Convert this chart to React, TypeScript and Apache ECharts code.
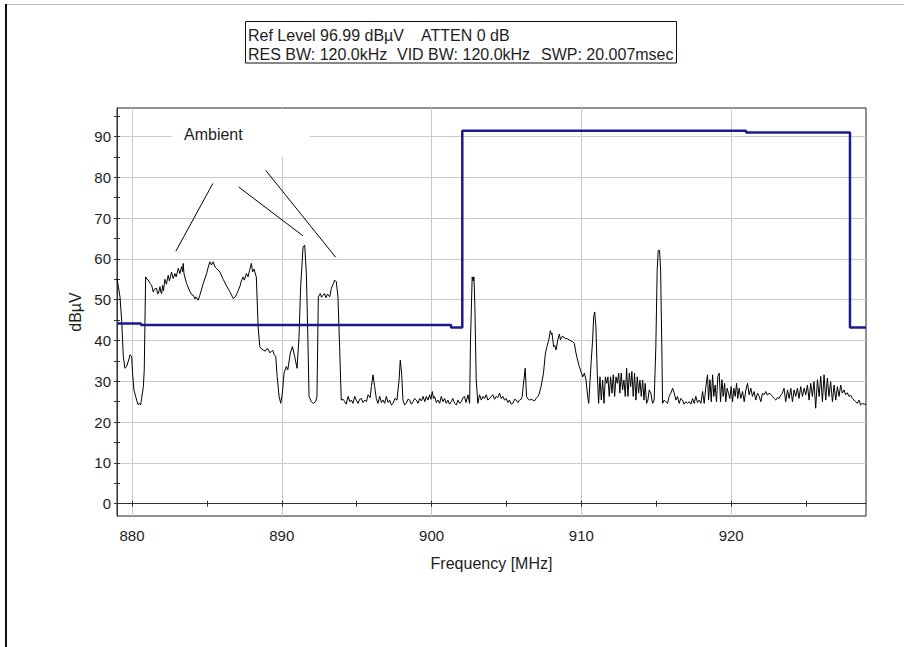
import React, { useEffect, useRef } from "react";
import * as echarts from "echarts";

const FONT = '"Liberation Sans", Arial, Helvetica, sans-serif';

// Axis ranges (Ref level 96.99 dBµV, 10 dB/div, 10 divisions)
const X_MIN = 879;
const X_MAX = 929;
const Y_MIN = -3.01;
const Y_MAX = 96.99;
const X_LABELS = [880, 890, 900, 910, 920];
const X_TICKS = [880, 885, 890, 895, 900, 905, 910, 915, 920, 925];
const Y_LABELS = [0, 10, 20, 30, 40, 50, 60, 70, 80, 90];
const Y_TICKS = [0, 5, 10, 15, 20, 25, 30, 35, 40, 45, 50, 55, 60, 65, 70, 75, 80, 85, 90, 95];

// Measured trace [MHz, dBµV]
const traceAmbient: [number, number][] = [
  [879.0, 55.2], [879.1, 53.0], [879.2, 50.7], [879.31, 45.0], [879.42, 36.1], [879.53, 33.2], [879.64, 33.6],
  [879.8, 35.5], [879.87, 36.5], [879.98, 36.0], [880.04, 32.0], [880.13, 27.9], [880.31, 25.4], [880.4, 24.3],
  [880.49, 24.6], [880.58, 24.2], [880.64, 25.8], [880.76, 28.7], [880.82, 32.8], [880.91, 55.6], [881.0, 55.0],
  [881.09, 54.8], [881.2, 54.0], [881.31, 53.6], [881.42, 51.9], [881.5, 52.6], [881.64, 52.8], [881.7, 51.5],
  [881.76, 51.5], [881.87, 53.2], [881.93, 51.8], [881.98, 51.5], [882.05, 53.5], [882.1, 52.2], [882.2, 55.0],
  [882.3, 53.8], [882.42, 56.0], [882.5, 54.6], [882.64, 56.8], [882.75, 55.2], [882.87, 56.4], [882.95, 55.6],
  [883.09, 57.7], [883.2, 56.4], [883.31, 58.1], [883.38, 56.9], [883.42, 58.9], [883.47, 56.4], [883.64, 54.0],
  [883.87, 52.0], [884.0, 51.2], [884.09, 51.1], [884.2, 50.2], [884.27, 50.7], [884.42, 49.9], [884.53, 51.1],
  [884.76, 54.0], [884.98, 56.4], [885.09, 58.0], [885.2, 59.3], [885.31, 58.5], [885.42, 59.3], [885.55, 58.0],
  [885.64, 57.7], [885.87, 56.8], [886.09, 55.0], [886.31, 53.4], [886.53, 52.0], [886.76, 50.3], [886.9, 50.7],
  [887.0, 51.5], [887.1, 52.3], [887.2, 53.2], [887.3, 54.6], [887.42, 55.6], [887.5, 54.8], [887.64, 56.4],
  [887.75, 55.6], [887.85, 57.2], [887.97, 58.9], [888.05, 56.8], [888.15, 57.5], [888.2, 56.8], [888.3, 55.6],
  [888.42, 43.4], [888.53, 38.5], [888.65, 37.9], [888.75, 37.7], [888.9, 37.4], [889.0, 38.0], [889.09, 37.9],
  [889.2, 37.0], [889.3, 37.3], [889.4, 37.6], [889.5, 36.5], [889.6, 36.1], [889.69, 31.2], [889.82, 26.3],
  [889.93, 24.6], [890.04, 27.1], [890.15, 32.0], [890.3, 33.6], [890.4, 32.8], [890.57, 36.9], [890.71, 38.5],
  [890.86, 36.1], [891.02, 33.2], [891.15, 40.9], [891.26, 53.2], [891.42, 62.9], [891.53, 63.4], [891.64, 56.4],
  [891.73, 42.6], [891.82, 26.3], [891.97, 25.0], [892.1, 24.6], [892.26, 25.0], [892.35, 26.3], [892.44, 50.7],
  [892.57, 51.5], [892.65, 50.6], [892.75, 51.1], [892.85, 51.5], [892.95, 50.5], [893.05, 51.4], [893.2, 50.7],
  [893.31, 52.8], [893.45, 54.0], [893.53, 54.8], [893.64, 54.4], [893.75, 50.7], [893.86, 38.5], [893.97, 25.4],
  [894.1, 25.6],
];

const traceLowBand: [number, number][] = [
  [894.2, 25.0], [894.3, 24.4], [894.43, 26.3], [894.55, 25.0], [894.65, 25.4], [894.75, 24.6], [894.87, 26.3],
  [895.0, 25.2], [895.09, 24.6], [895.2, 25.6], [895.31, 25.8], [895.42, 24.8], [895.54, 25.4], [895.65, 25.0],
  [895.76, 26.7], [895.9, 26.0], [895.98, 28.7], [896.09, 31.6], [896.2, 28.7], [896.31, 25.8], [896.42, 24.6],
  [896.54, 26.3], [896.65, 24.8], [896.76, 25.4], [896.87, 24.6], [896.98, 26.3], [897.1, 24.8], [897.2, 25.4],
  [897.32, 24.2], [897.43, 24.6], [897.55, 25.8], [897.69, 25.4], [897.83, 30.3], [897.91, 35.2], [898.0, 32.0],
  [898.09, 25.4], [898.2, 24.2], [898.31, 24.6], [898.42, 25.6], [898.54, 25.4], [898.65, 24.4], [898.76, 25.0],
  [898.87, 25.8], [898.98, 25.4], [899.1, 24.6], [899.2, 25.8], [899.32, 25.2], [899.43, 26.3], [899.55, 25.0],
  [899.65, 26.3], [899.76, 25.4], [899.87, 26.7], [899.95, 25.6], [900.05, 27.5], [900.12, 25.8], [900.2, 26.3],
  [900.32, 24.8], [900.43, 25.4], [900.54, 24.6], [900.65, 26.3], [900.76, 25.0], [900.87, 25.8], [900.98, 24.6],
  [901.09, 25.4], [901.2, 24.4], [901.31, 25.0], [901.42, 25.8], [901.54, 24.6], [901.65, 24.2], [901.76, 25.4],
  [901.87, 24.6], [901.98, 25.0], [902.1, 26.0], [902.2, 26.3], [902.3, 24.8], [902.43, 26.7], [902.54, 24.6],
  [902.6, 40.1], [902.71, 55.6], [902.77, 54.6], [902.83, 55.6], [902.89, 48.3], [902.98, 30.3], [903.09, 24.6],
];

const traceMidBand: [number, number][] = [
  [903.2, 26.7], [903.32, 25.4], [903.43, 26.3], [903.54, 25.8], [903.65, 26.7], [903.76, 25.4], [903.87, 25.8],
  [903.98, 26.3], [904.09, 26.7], [904.2, 25.6], [904.31, 26.3], [904.42, 26.0], [904.54, 27.1], [904.65, 25.8],
  [904.76, 26.3], [904.87, 25.4], [904.98, 25.8], [905.09, 24.8], [905.2, 25.4], [905.32, 24.4], [905.43, 24.6],
  [905.54, 25.6], [905.65, 25.4], [905.76, 24.8], [905.87, 25.4], [905.98, 25.6], [906.05, 26.3], [906.16, 30.3],
  [906.25, 33.2], [906.34, 26.3], [906.45, 25.6], [906.54, 25.4], [906.65, 25.6], [906.76, 25.4], [906.87, 25.2],
  [906.98, 25.8], [907.08, 26.2], [907.16, 26.7], [907.31, 28.7], [907.47, 32.0], [907.6, 36.9], [907.7, 38.5],
  [907.82, 40.1], [907.93, 42.4], [908.0, 41.5], [908.04, 41.8], [908.15, 38.5], [908.22, 38.8], [908.31, 37.7],
  [908.42, 40.1], [908.53, 41.6], [908.6, 40.2], [908.64, 40.5], [908.75, 41.1], [908.86, 40.6], [908.97, 40.5],
  [909.08, 40.4], [909.2, 40.1], [909.31, 39.9], [909.42, 39.7], [909.53, 39.3], [909.64, 36.9], [909.75, 35.2],
  [909.86, 33.6], [909.97, 32.4], [910.09, 31.1], [910.2, 32.0], [910.31, 30.3], [910.42, 26.3], [910.49, 24.6],
  [910.58, 30.3], [910.66, 35.2], [910.75, 40.1], [910.82, 45.8], [910.89, 47.0], [910.97, 43.4], [911.06, 32.0],
  [911.15, 24.6],
];

const traceHighBand: [number, number][] = [
  [911.24, 31.1], [911.33, 25.4], [911.42, 30.3], [911.51, 24.6], [911.6, 31.1], [911.69, 29.5], [911.77, 31.1],
  [911.86, 26.3], [911.95, 31.1], [912.04, 27.1], [912.13, 31.6], [912.22, 26.3], [912.31, 31.1], [912.4, 29.5],
  [912.49, 32.0], [912.57, 27.1], [912.66, 32.0], [912.75, 27.9], [912.84, 30.3], [912.93, 26.3], [913.02, 33.2],
  [913.11, 26.3], [913.2, 32.0], [913.29, 28.7], [913.37, 32.4], [913.46, 26.3], [913.55, 32.0], [913.64, 25.4],
  [913.73, 31.1], [913.82, 27.1], [913.91, 30.3], [914.0, 26.3], [914.09, 30.3], [914.18, 25.4], [914.26, 29.5],
  [914.35, 24.6], [914.44, 25.4], [914.53, 27.9], [914.64, 27.1], [914.75, 24.6], [914.86, 25.4], [914.97, 38.5],
  [915.06, 57.3], [915.13, 62.1], [915.22, 62.1], [915.29, 57.3], [915.37, 38.5], [915.42, 24.6], [915.53, 25.4],
  [915.64, 25.0], [915.75, 24.6], [915.86, 26.3], [915.97, 27.1], [916.09, 28.3], [916.2, 27.1], [916.31, 25.4],
  [916.42, 26.3], [916.53, 24.6], [916.64, 25.8], [916.75, 25.4], [916.86, 24.4], [916.97, 25.0], [917.08, 24.6],
];

const traceTopBand: [number, number][] = [
  [917.2, 25.0], [917.31, 24.4], [917.42, 25.8], [917.53, 24.6], [917.64, 26.3], [917.75, 24.8], [917.87, 25.4],
  [917.98, 24.6], [918.09, 27.5], [918.2, 24.6], [918.31, 28.7], [918.42, 31.6], [918.49, 25.4], [918.58, 30.4],
  [918.67, 25.0], [918.76, 31.6], [918.84, 26.3], [918.93, 29.1], [919.02, 25.0], [919.11, 31.2], [919.2, 32.0],
  [919.29, 25.0], [919.38, 30.4], [919.47, 26.3], [919.56, 29.5], [919.64, 25.0], [919.73, 28.3], [919.82, 27.1],
  [919.91, 25.8], [920.0, 28.7], [920.09, 25.0], [920.18, 28.3], [920.27, 26.3], [920.36, 29.5], [920.44, 25.8],
  [920.53, 28.3], [920.64, 25.8], [920.76, 27.5], [920.87, 25.0], [920.98, 27.9], [921.09, 29.5], [921.2, 26.7],
  [921.31, 28.3], [921.42, 26.3], [921.53, 27.5], [921.64, 25.4], [921.76, 27.1], [921.87, 26.3], [921.98, 25.0],
  [922.09, 27.1], [922.2, 26.7], [922.31, 27.5], [922.42, 26.6], [922.53, 27.1], [922.64, 26.8], [922.76, 26.3],
  [922.87, 25.8], [922.98, 25.4], [923.09, 26.0], [923.2, 25.8], [923.31, 26.6], [923.42, 27.1], [923.53, 28.3],
  [923.64, 25.0], [923.76, 27.9], [923.87, 25.8], [923.98, 28.3], [924.09, 25.0], [924.2, 27.9], [924.31, 26.3],
  [924.42, 28.3], [924.53, 25.8], [924.64, 28.7], [924.76, 26.3], [924.87, 28.3], [924.98, 26.7], [925.09, 29.1],
  [925.2, 25.4], [925.31, 29.5], [925.42, 26.3], [925.53, 29.9], [925.64, 23.4], [925.76, 30.4], [925.87, 26.3],
  [925.98, 31.2], [926.09, 25.0], [926.2, 31.6], [926.31, 25.4], [926.42, 30.8], [926.53, 26.3], [926.64, 29.9],
  [926.76, 25.0], [926.87, 29.1], [926.98, 25.4], [927.09, 28.7], [927.2, 26.3], [927.31, 29.1], [927.42, 27.1],
  [927.53, 27.9], [927.64, 26.7], [927.75, 27.2], [927.87, 26.3], [927.98, 26.6], [928.09, 25.8], [928.2, 25.4],
  [928.31, 25.0], [928.42, 24.6], [928.53, 25.4], [928.64, 24.2], [928.75, 24.6], [928.87, 24.4], [929.0, 24.4],
];

// Limit line [MHz, dBµV]
const limitLine: [number, number][] = [
  [879.0, 44.2], [880.6, 44.2], [880.6, 43.8], [901.3, 43.8], [901.3, 43.2], [902.05, 43.2],
  [902.05, 91.4], [921.0, 91.4], [921.0, 91.0], [927.93, 91.0], [927.93, 43.2], [929.0, 43.2],
];

// "Ambient" pointer lines in data space: [[MHz, dBµV], [MHz, dBµV]]
const ambientPointers: [[number, number], [number, number]][] = [
  [[885.4, 78.5], [882.93, 61.9]],
  [[887.13, 77.6], [891.4, 65.7]],
  [[888.93, 81.7], [893.6, 60.4]],
];

const HEADER_LINE1 = ["Ref Level 96.99 dBµV", "ATTEN 0 dB"];
const HEADER_LINE2 = ["RES BW: 120.0kHz", "VID BW: 120.0kHz", "SWP: 20.007msec"];

export default function App() {
  const ref = useRef<HTMLDivElement>(null);

  useEffect(() => {
    if (!ref.current) return;
    const chart = echarts.init(ref.current, null, { renderer: "svg" });
    const trace = [...traceAmbient, ...traceLowBand, ...traceMidBand, ...traceHighBand, ...traceTopBand];
    const ink = "#1e1e1e";
    const gridColor = "#c9c9c9";

    const txt = (text: string, x: number, y: number, size = 16) => ({
      type: "text",
      x,
      y,
      z: 10,
      style: { text, fill: ink, font: `${size}px ${FONT}`, textVerticalAlign: "middle", verticalAlign: "middle" },
    });

    const option: any = {
      animation: false,
      backgroundColor: "#ffffff",
      textStyle: { fontFamily: FONT },
      grid: {
        left: 117,
        right: 38,
        top: 108,
        bottom: 131,
        show: true,
        borderColor: "#222",
        borderWidth: 1,
        backgroundColor: "#ffffff",
        outerBoundsMode: "none",
      },
      xAxis: [
        {
          type: "value",
          min: X_MIN,
          max: X_MAX,
          position: "bottom",
          axisLine: { show: true, onZero: true, onZeroAxisIndex: 0, lineStyle: { color: "#333", width: 1 } },
          axisTick: { show: true, customValues: X_TICKS, length: 3, lineStyle: { color: "#333" } },
          axisLabel: { customValues: X_LABELS, margin: 12, fontSize: 15, color: ink, fontFamily: FONT },
          splitLine: { show: false },
          name: "Frequency [MHz]",
          nameLocation: "middle",
          nameGap: 39,
          nameTextStyle: { fontSize: 16, color: ink, fontFamily: FONT },
        },
        {
          type: "value",
          min: X_MIN,
          max: X_MAX,
          position: "bottom",
          axisLine: { show: false, onZero: true, onZeroAxisIndex: 0 },
          axisTick: { show: true, inside: true, customValues: X_TICKS, length: 3, lineStyle: { color: "#333" } },
          axisLabel: { show: false },
          splitLine: { show: false },
        },
        {
          type: "value",
          min: X_MIN,
          max: X_MAX,
          position: "top",
          axisLine: { show: false, onZero: false },
          axisTick: { show: false, customValues: X_LABELS },
          axisLabel: { show: false },
          splitLine: { show: true, lineStyle: { color: gridColor, width: 1 } },
        },
      ],
      yAxis: [
        {
          type: "value",
          min: Y_MIN,
          max: Y_MAX,
          position: "left",
          axisLine: { show: true, onZero: false, lineStyle: { color: "#333", width: 1 } },
          axisTick: { show: true, customValues: Y_TICKS, length: 3, lineStyle: { color: "#333" } },
          axisLabel: { customValues: Y_LABELS, margin: 6, fontSize: 15, color: ink, fontFamily: FONT },
          splitLine: { show: false },
          name: "dBµV",
          nameLocation: "middle",
          nameGap: 30,
          nameTextStyle: { fontSize: 16, color: ink, fontFamily: FONT },
        },
        {
          type: "value",
          min: Y_MIN,
          max: Y_MAX,
          position: "left",
          axisLine: { show: false, onZero: false },
          axisTick: { show: true, inside: true, customValues: Y_TICKS, length: 3, lineStyle: { color: "#333" } },
          axisLabel: { show: false },
          splitLine: { show: false },
        },
        {
          type: "value",
          min: Y_MIN,
          max: Y_MAX,
          position: "right",
          axisLine: { show: false, onZero: false },
          axisTick: { show: false, customValues: Y_LABELS },
          axisLabel: { show: false },
          splitLine: { show: true, lineStyle: { color: gridColor, width: 1 } },
        },
      ],
      series: [
        {
          name: "Trace",
          type: "line",
          xAxisIndex: 0,
          yAxisIndex: 0,
          data: trace,
          showSymbol: false,
          symbol: "none",
          lineStyle: { color: "#000", width: 1 },
          z: 3,
          markLine: {
            silent: true,
            symbol: ["none", "none"],
            label: { show: false },
            lineStyle: { color: "#000", width: 1, type: "solid" },
            data: ambientPointers.map(([a, b]) => [{ coord: a }, { coord: b }]),
          },
        },
        {
          name: "Limit",
          type: "line",
          xAxisIndex: 0,
          yAxisIndex: 0,
          data: limitLine,
          showSymbol: false,
          symbol: "none",
          lineStyle: { color: "#1a1a8f", width: 2.5 },
          z: 4,
        },
      ],
      graphic: [
        { type: "line", shape: { x1: 5, y1: 4.5, x2: 904, y2: 4.5 }, style: { stroke: "#bdbdbd", lineWidth: 1 } },
        { type: "line", shape: { x1: 6, y1: 4, x2: 6, y2: 647 }, style: { stroke: "#111", lineWidth: 2 } },
        {
          type: "rect",
          shape: { x: 245.5, y: 21.5, width: 431, height: 41.5 },
          style: { fill: "#fff", stroke: "#111", lineWidth: 1 },
        },
        // white label panel of the annotation, hiding the grid behind it
        { type: "rect", z: 1, shape: { x: 172, y: 109, width: 138, height: 48 }, style: { fill: "#fff" } },
        txt(HEADER_LINE1[0], 248, 35),
        txt(HEADER_LINE1[1], 421, 35),
        txt(HEADER_LINE2[0], 248, 54.5),
        txt(HEADER_LINE2[1], 397, 54.5),
        txt(HEADER_LINE2[2], 541, 54.5),
        txt("Ambient", 184, 134),
      ],
    };

    chart.setOption(option);
    return () => chart.dispose();
  }, []);

  return (
    <div
      ref={ref}
      style={{ position: "fixed", left: 0, top: 0, width: 904, height: 647, background: "#fff" }}
    />
  );
}
